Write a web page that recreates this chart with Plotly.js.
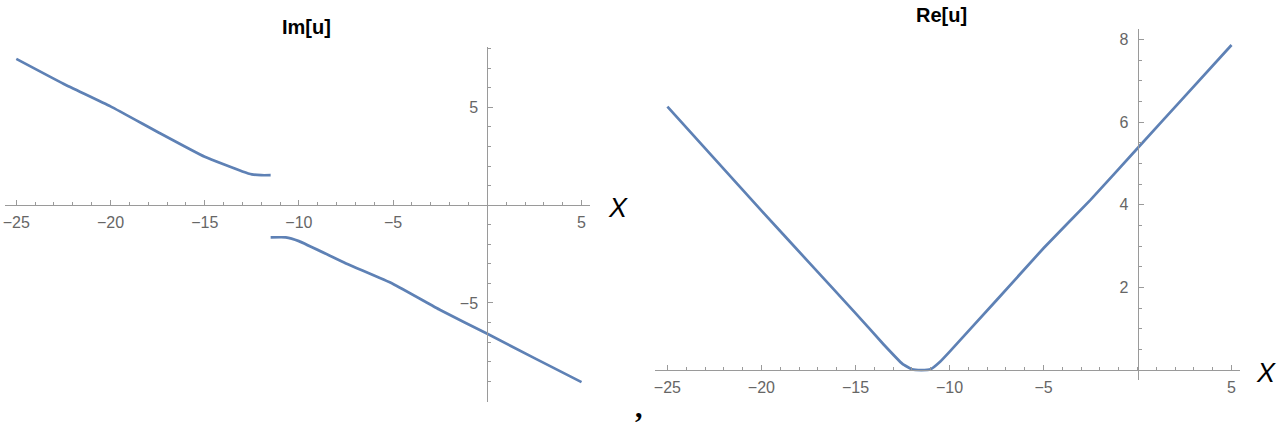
<!DOCTYPE html>
<html>
<head>
<meta charset="utf-8">
<script src="https://cdn.plot.ly/plotly-3.0.1.min.js"></script>
<style>
  html, body { margin: 0; padding: 0; background: #fff; }
  #myDiv { width: 1280px; height: 422px; }
</style>
</head>
<body>
<div id="myDiv"></div>
<script>
// Im[u], two branches (jump near x = -11.5)
var imX1 = [-25, -22.5, -20, -17.5, -15, -13, -12.5, -12, -11.5];
var imY1 = [7.48, 6.21, 5.05, 3.74, 2.47, 1.72, 1.57, 1.53, 1.53];
var imX2 = [-11.5, -10.7, -10, -7.5, -5, -2.5, 0, 2.5, 5];
var imY2 = [-1.65, -1.65, -1.84, -2.98, -4.03, -5.36, -6.58, -7.82, -9.05];

// Re[u]
var reX = [-25, -22.5, -20, -17.5, -15, -13.5, -12.5, -12, -11.5, -11, -10.5, -10, -7.5, -5, -2.5, 0, 2.5, 5];
var reY = [6.38, 5.12, 3.86, 2.62, 1.38, 0.62, 0.15, 0.02, 0.0, 0.02, 0.2, 0.44, 1.69, 2.95, 4.12, 5.37, 6.62, 7.87];

var xTicks = [-25, -20, -15, -10, -5, 5];
var imTicks = [-5, 5];
var reTicks = [2, 4, 6, 8];

var lineColor = '#5e81b5';
var axisColor = '#9a9a9a';
var labelColor = '#666666';
var sans = 'Liberation Sans, Arial, sans-serif';

// plot boxes
var dom1x = [5 / 1280, 590 / 1280], dom1y = [1 - 401.7 / 422, 1 - 46.7 / 422];
var dom2x = [655 / 1280, 1240 / 1280], dom2y = [1 - 380 / 422, 1 - 29.3 / 422];
var rng1x = [-25.6, 5.45], rng1y = [-10.05, 8.1];
var rng2x = [-25.66, 5.45], rng2y = [-0.24, 8.25];

// where the zero of one axis lands in paper units, so the axes cross at the origin
function zeroAt(dom, rng) {
  return dom[0] + (0 - rng[0]) / (rng[1] - rng[0]) * (dom[1] - dom[0]);
}

function xAxis(dom, rng, pos) {
  return {
    domain: dom, range: rng, anchor: 'free', position: pos,
    showline: true, linecolor: axisColor, linewidth: 1,
    showgrid: false, zeroline: false,
    tickmode: 'array', tickvals: xTicks,
    ticks: 'inside', ticklen: 5, tickcolor: axisColor,
    minor: { ticks: 'inside', ticklen: 3, tickcolor: axisColor, tickmode: 'linear', tick0: 0, dtick: 1 },
    tickfont: { family: sans, size: 16, color: labelColor },
    ticklabelstandoff: 3
  };
}

function yAxis(dom, rng, pos, vals, minorStep) {
  return {
    domain: dom, range: rng, anchor: 'free', position: pos,
    showline: true, linecolor: axisColor, linewidth: 1,
    showgrid: false, zeroline: false,
    tickmode: 'array', tickvals: vals,
    ticks: 'inside', ticklen: 5, tickcolor: axisColor,
    minor: { ticks: 'inside', ticklen: 3, tickcolor: axisColor, tickmode: 'linear', tick0: 0, dtick: minorStep },
    tickfont: { family: sans, size: 16, color: labelColor },
    ticklabelstandoff: 6
  };
}

var data = [
  { x: imX1, y: imY1, xaxis: 'x', yaxis: 'y', type: 'scatter', mode: 'lines',
    line: { color: lineColor, width: 2.7, shape: 'spline', smoothing: 0.4 }, hoverinfo: 'skip' },
  { x: imX2, y: imY2, xaxis: 'x', yaxis: 'y', type: 'scatter', mode: 'lines',
    line: { color: lineColor, width: 2.7, shape: 'spline', smoothing: 0.4 }, hoverinfo: 'skip' },
  { x: reX, y: reY, xaxis: 'x2', yaxis: 'y2', type: 'scatter', mode: 'lines',
    line: { color: lineColor, width: 2.7, shape: 'spline', smoothing: 0.3 }, hoverinfo: 'skip' }
];

function note(text, px, py, size, family) {
  return { text: text, xref: 'paper', yref: 'paper', x: px / 1280, y: 1 - py / 422,
    xanchor: 'center', yanchor: 'middle', showarrow: false,
    font: { family: family || sans, size: size, color: '#000' } };
}

var layout = {
  width: 1280, height: 422,
  margin: { l: 0, r: 0, t: 0, b: 0 },
  paper_bgcolor: '#fff', plot_bgcolor: 'rgba(0,0,0,0)',
  showlegend: false,
  xaxis: xAxis(dom1x, rng1x, zeroAt(dom1y, rng1y)),
  yaxis: yAxis(dom1y, rng1y, zeroAt(dom1x, rng1x), imTicks, 1),
  xaxis2: xAxis(dom2x, rng2x, zeroAt(dom2y, rng2y)),
  yaxis2: yAxis(dom2y, rng2y, zeroAt(dom2x, rng2x), reTicks, 0.5),
  annotations: [
    note('<b>Im[u]</b>', 306, 27, 20),
    note('<b>Re[u]</b>', 941, 15, 20),
    note('<i>X</i>', 618, 208, 27),
    note('<i>X</i>', 1266, 373, 27),
    note('<b>,</b>', 639, 406, 30, 'Liberation Serif, Times New Roman, serif')
  ]
};

Plotly.newPlot('myDiv', data, layout, { staticPlot: true, displayModeBar: false });
</script>
</body>
</html>
